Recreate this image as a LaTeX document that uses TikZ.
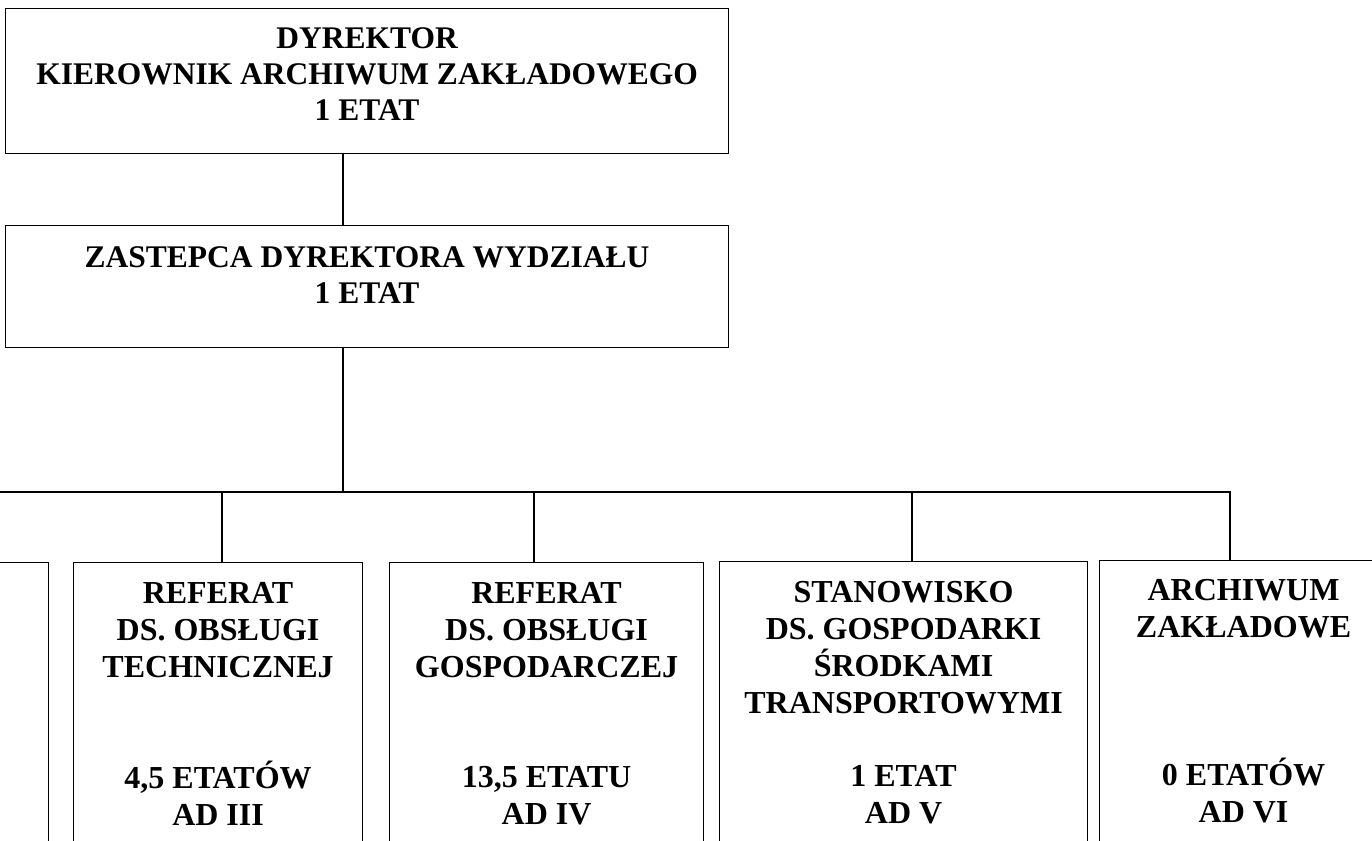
\documentclass[tikz,border=0pt]{standalone}
\usepackage{fontspec}
\setmainfont{Liberation Serif}
\usetikzlibrary{positioning}

\begin{document}
\begin{tikzpicture}[x=1pt,y=-1pt,
    frame/.style={draw,rectangle,line width=1.1pt,inner sep=0pt},
    title/.style={inner sep=0pt,align=center,font=\bfseries\fontsize{31.5}{36}\selectfont},
    unit/.style={inner sep=0pt,align=center,font=\bfseries\fontsize{32}{37}\selectfont},
    link/.style={line width=1.1pt}]
  \useasboundingbox (0,0) rectangle (1372,840);
  \clip (0,0) rectangle (1372,840);

  % management
  \node (dyr) [frame,anchor=north west,minimum width=723pt,minimum height=145pt] at (5,8) {};
  \node (dyrtext) [title,below=19pt of dyr.north] {DYREKTOR\\KIEROWNIK ARCHIWUM ZAKŁADOWEGO\\1 ETAT};
  \node (zast) [frame,anchor=north west,minimum width=723pt,minimum height=122pt] at (5,225) {};
  \node (zasttext) [title,below=21pt of zast.north] {ZASTEPCA DYREKTORA WYDZIAŁU\\1 ETAT};

  % units
  \node (left) [frame,anchor=north east,minimum width=300pt,minimum height=340pt] at (49,562) {};
  \node (tech) [frame,anchor=north west,minimum width=289pt,minimum height=340pt] at (73,562) {};
  \node (gosp) [frame,anchor=north west,minimum width=314pt,minimum height=340pt] at (389,562) {};
  \node (stan) [frame,anchor=north west,minimum width=368pt,minimum height=340pt] at (719,561) {};
  \node (arch) [frame,anchor=north west,minimum width=288pt,minimum height=340pt] at (1099,560) {};

  \node (techname) [unit,below=20pt of tech.north] {REFERAT\\DS. OBSŁUGI\\TECHNICZNEJ};
  \node (gospname) [unit,below=20pt of gosp.north] {REFERAT\\DS. OBSŁUGI\\GOSPODARCZEJ};
  \node (stanname) [unit,below=20pt of stan.north] {STANOWISKO\\DS. GOSPODARKI\\ŚRODKAMI\\TRANSPORTOWYMI};
  \node (archname) [unit,below=19pt of arch.north] {ARCHIWUM\\ZAKŁADOWE};

  \node (techstaff) [unit,below=199pt of tech.north] {4,5 ETATÓW\\AD III};
  \node (gospstaff) [unit,below=204pt of gosp.north] {13,5 ETATU\\AD IV};
  \node (stanstaff) [unit,below=204pt of stan.north] {1 ETAT\\AD V};
  \node (archstaff) [unit,below=198pt of arch.north] {0 ETATÓW\\AD VI};

  % connectors
  \coordinate (spine) at (343,492);
  \coordinate (busL) at (-20,492);
  \coordinate (busR) at (1230,492);
  \draw[link] (spine |- dyr.south) -- (spine |- zast.north);
  \draw[link] (spine |- zast.south) -- (spine);
  \draw[link] (busL) -- (busR) -- (busR |- arch.north);
  \foreach \u/\x in {tech/222,gosp/534,stan/912} {
    \coordinate (tap\u) at (\x,492);
    \draw[link] (tap\u) -- (tap\u |- \u.north);
  }
\end{tikzpicture}
\end{document}
